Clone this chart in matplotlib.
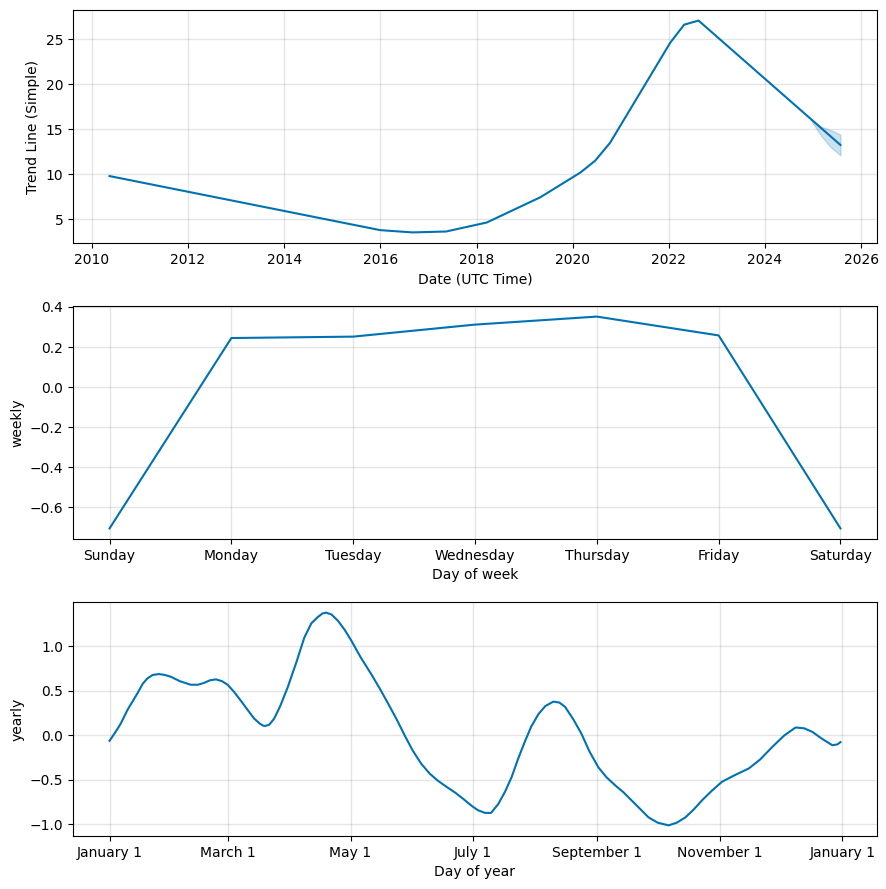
import matplotlib
matplotlib.use("Agg")
import matplotlib.pyplot as plt
import matplotlib.dates as mdates
from matplotlib.ticker import FuncFormatter
import pandas as pd

line_color = '#0072B2'

# trend component
trend_dates = ['2010-05-15', '2016-01-01', '2016-09-01', '2017-05-15', '2018-03-20',
               '2019-05-01', '2020-03-01', '2020-06-20', '2020-10-12', '2022-01-12',
               '2022-04-28', '2022-08-15', '2025-07-28']
trend_vals = [9.8, 3.8, 3.55, 3.65, 4.65, 7.45, 10.2, 11.5, 13.5, 24.6, 26.6, 27.05, 13.25]
band_dates = ['2024-12-15', '2025-03-01', '2025-05-15', '2025-07-28']
band_lower = [16.0, 14.3, 13.0, 12.1]
band_upper = [16.1, 15.3, 14.9, 14.4]

# weekly component
week_days = ['Sunday', 'Monday', 'Tuesday', 'Wednesday', 'Thursday', 'Friday', 'Saturday']
weekly_vals = [-0.705, 0.245, 0.252, 0.312, 0.352, 0.258, -0.705]

# yearly component (day offset from Jan 1)
year_days = [0, 3, 5.5, 9, 13.8, 16.5, 18.8, 21.5, 24.6, 27.5, 30.5, 35, 40.4, 44, 47, 50, 53,
             56, 58.8, 62, 65.4, 69, 72, 75, 77, 79.5, 82, 85, 88.7, 93, 97, 100.5, 103.7, 106,
             107.8, 110.5, 113.7, 117, 120.3, 125, 130.3, 134.5, 138.7, 143, 147, 151, 155.3,
             159.5, 163.6, 168, 172, 176, 180.3, 183.5, 187, 190, 193.6, 197, 200.2, 203.5,
             207, 210, 213.6, 217, 221, 224, 226.9, 231, 235, 239, 243.5, 247.5, 251.8, 256,
             260, 264, 268.4, 273, 278.4, 282.5, 286.8, 291, 295, 300, 305, 311, 318.4, 324,
             330, 336, 341.7, 346, 350, 355, 360, 362.5, 364]
yearly_vals = [-0.06, 0.04, 0.13, 0.29, 0.47, 0.58, 0.64, 0.68, 0.69, 0.68, 0.66, 0.61, 0.57,
               0.57, 0.59, 0.62, 0.63, 0.61, 0.57, 0.49, 0.39, 0.28, 0.19, 0.13, 0.105, 0.12,
               0.19, 0.33, 0.54, 0.82, 1.10, 1.26, 1.33, 1.37, 1.38, 1.36, 1.29, 1.19, 1.07,
               0.88, 0.69, 0.53, 0.36, 0.18, 0.0, -0.17, -0.32, -0.43, -0.51, -0.58, -0.64,
               -0.71, -0.79, -0.84, -0.87, -0.87, -0.77, -0.63, -0.47, -0.26, -0.06, 0.10, 0.24,
               0.33, 0.38, 0.37, 0.32, 0.18, 0.02, -0.18, -0.36, -0.47, -0.56, -0.64, -0.73,
               -0.82, -0.92, -0.98, -1.01, -0.98, -0.92, -0.83, -0.73, -0.62, -0.52, -0.45,
               -0.37, -0.27, -0.13, 0.0, 0.09, 0.08, 0.04, -0.04, -0.11, -0.1, -0.075]

fig = plt.figure(figsize=(8.87, 8.89), dpi=100)
w = (877 - 73) / 887
ax1 = fig.add_axes([73 / 887, 1 - 243 / 889, w, 233 / 889])
ax2 = fig.add_axes([73 / 887, 1 - 539 / 889, w, 233 / 889])
ax3 = fig.add_axes([73 / 887, 1 - 836 / 889, w, 234 / 889])

# trend
td = pd.to_datetime(trend_dates)
ax1.plot(td, trend_vals, ls='-', c=line_color)
ax1.fill_between(pd.to_datetime(band_dates), band_lower, band_upper, color=line_color, alpha=0.2)
ax1.xaxis.set_major_locator(mdates.YearLocator(2))
ax1.xaxis.set_major_formatter(mdates.DateFormatter('%Y'))
ax1.set_xlabel('Date (UTC Time)')
ax1.set_ylabel('Trend Line (Simple)')

# weekly
ax2.plot(range(len(week_days)), weekly_vals, ls='-', c=line_color)
ax2.set_xticks(range(len(week_days)))
ax2.set_xticklabels(week_days)
ax2.set_xlabel('Day of week')
ax2.set_ylabel('weekly')

# yearly
yd = pd.Timestamp('2017-01-01') + pd.to_timedelta(year_days, unit='D')
ax3.plot(yd, yearly_vals, ls='-', c=line_color)
ax3.xaxis.set_major_locator(mdates.MonthLocator(bymonth=range(1, 13), bymonthday=1, interval=2))
ax3.xaxis.set_major_formatter(FuncFormatter(lambda x, pos=None: '{dt:%B} {dt.day}'.format(dt=mdates.num2date(x))))
ax3.set_xlabel('Day of year')
ax3.set_ylabel('yearly')

for ax in (ax1, ax2, ax3):
    ax.grid(True, which='major', c='gray', ls='-', lw=1, alpha=0.2)

fig.savefig('out.png', dpi=100)
